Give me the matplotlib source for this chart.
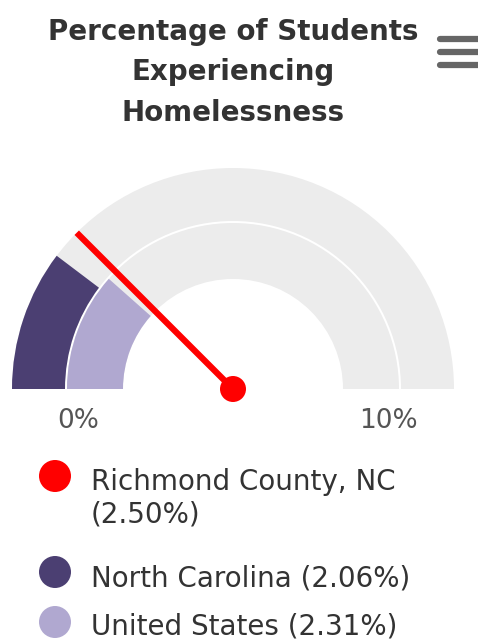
import matplotlib
matplotlib.use("Agg")
import matplotlib.pyplot as plt
from matplotlib.patches import Wedge, Circle
import numpy as np

# gauge data
gauge_min = 0
gauge_max = 10
county_name = "Richmond County, NC"
county_value = 2.50
band_names = ["North Carolina", "United States"]
band_values = [2.06, 2.31]
band_colors = ["#4b3f72", "#b0a8d0"]
tick_labels = ["0%", "10%"]
title_lines = ["Percentage of Students", "Experiencing", "Homelessness"]

W, H = 478, 639
fig = plt.figure(figsize=(W / 100, H / 100), dpi=100)
ax = fig.add_axes([0, 0, 1, 1])
ax.set_xlim(0, W)
ax.set_ylim(0, H)
ax.axis("off")


def py(y):
    # pixel rows measured from the top
    return H - y


def val2deg(v):
    return 180 - 180 * (v - gauge_min) / (gauge_max - gauge_min)


cx, cy = 233, py(389)
# (outer radius, thickness) for each band, outside first
rings = [(221, 53), (166, 56)]

for (r, w), v, c in zip(rings, band_values, band_colors):
    ax.add_patch(Wedge((cx, cy), r, 0, 180, width=w, facecolor="#ececec", edgecolor="none"))
    ax.add_patch(Wedge((cx, cy), r, val2deg(v), 180, width=w, facecolor=c, edgecolor="none"))

# needle
a = np.radians(val2deg(county_value))
r_needle = 221
ax.plot([cx, cx + r_needle * np.cos(a)], [cy, cy + r_needle * np.sin(a)],
        color="#ff0000", lw=4.5, solid_capstyle="butt", zorder=5)
ax.add_patch(Circle((cx, cy), 13, facecolor="#ff0000", edgecolor="none", zorder=6))

# min / max labels under the bands
ax.text(cx - 155, py(428), tick_labels[0], ha="center", va="baseline",
        fontsize=19, color="#555555")
ax.text(cx + 155, py(428), tick_labels[1], ha="center", va="baseline",
        fontsize=19, color="#555555")

# title
for line, yb in zip(title_lines, [40, 80, 121]):
    ax.text(cx, py(yb), line, ha="center", va="baseline", fontsize=20,
            fontweight="bold", color="#333333")

# menu icon
for yb in [39, 52, 65]:
    ax.plot([440, 480], [py(yb), py(yb)], color="#666666", lw=4.5, solid_capstyle="round")

# legend
legend_items = [
    ("#ff0000", [f"{county_name}", f"({county_value:.2f}%)"], 476, [490, 522]),
    (band_colors[0], [f"{band_names[0]} ({band_values[0]:.2f}%)"], 572, [587]),
    (band_colors[1], [f"{band_names[1]} ({band_values[1]:.2f}%)"], 622, [635]),
]
for color, lines, ydot, ybases in legend_items:
    ax.add_patch(Circle((55, py(ydot)), 16, facecolor=color, edgecolor="none"))
    for line, yb in zip(lines, ybases):
        ax.text(91, py(yb), line, ha="left", va="baseline", fontsize=20, color="#333333")

fig.savefig("out.png", dpi=100)
